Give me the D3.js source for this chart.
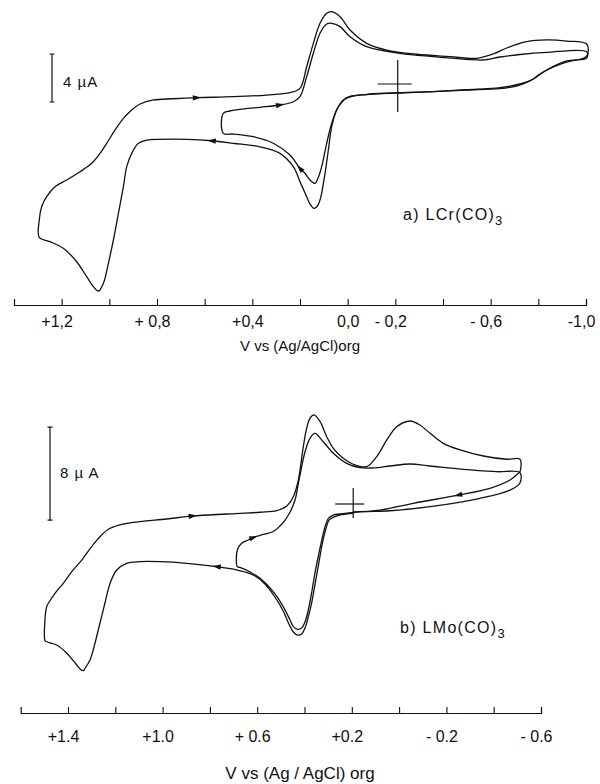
<!DOCTYPE html>
<html>
<head>
<meta charset="utf-8">
<style>
  body { margin: 0; background: #fff; }
  svg { display: block; }
</style>
</head>
<body>
<svg width="600" height="784"></svg>
<script src="https://d3js.org/d3.v7.min.js"></script>
<script>
	const svg = d3.select("svg");
	const ink = "#111";
	const font = "'Liberation Sans', Arial, sans-serif";

	// ---- a) LCr(CO)3 : potential (V) vs current (uA), two scans ----
	const crTicks = [1.2, 1.0, 0.8, 0.6, 0.4, 0.2, 0.0, -0.2, -0.4, -0.6, -0.8, -1.0];
	const crTickLabels = ["+1,2", "", "+ 0,8", "", "+0,4", "", "0,0", "- 0,2", "", "- 0,6", "", "-1,0"];

	const crInner = [
		[-0.220, -0.75], [-0.080, -0.86], [0.004, -1.19], [0.039, -1.89], [0.067, -3.28], [0.088, -4.94],
		[0.109, -6.89], [0.124, -7.83], [0.137, -8.28], [0.158, -8.00], [0.179, -7.44], [0.200, -7.03],
		[0.242, -5.92], [0.312, -4.94], [0.396, -4.39], [0.480, -4.17], [0.522, -4.11],
		[0.522, -2.44], [0.494, -2.25], [0.452, -2.11], [0.368, -1.94], [0.284, -1.75], [0.228, -1.48],
		[0.200, -1.06], [0.172, 0.61], [0.144, 2.56], [0.116, 4.23], [0.088, 5.00], [0.067, 5.06],
		[0.032, 4.78], [-0.010, 3.94], [-0.080, 3.11], [-0.220, 2.56], [-0.360, 2.28], [-0.499, 2.06],
		[-0.569, 2.00], [-0.639, 2.25], [-0.723, 2.46], [-0.835, 2.63], [-1.003, 2.69],
		[-1.003, 2.17], [-0.919, 1.92], [-0.835, 1.17], [-0.779, 0.42], [-0.723, 0.00], [-0.639, -0.31],
		[-0.499, -0.48], [-0.360, -0.63], [-0.220, -0.75]
	];
	const crOuter = [
		[-0.220, -0.72], [-0.080, -0.88], [-0.010, -1.04], [0.018, -1.33], [0.046, -2.17], [0.067, -3.56],
		[0.081, -5.50], [0.095, -7.44], [0.116, -9.67], [0.129, -10.23], [0.141, -10.36], [0.158, -10.00],
		[0.172, -9.39], [0.200, -8.14], [0.228, -6.89], [0.284, -5.78], [0.368, -5.23], [0.480, -4.94],
		[0.570, -4.73], [0.675, -4.61], [0.787, -4.61], [0.843, -4.67], [0.878, -4.94], [0.906, -5.78],
		[0.927, -6.89], [0.941, -8.56], [0.962, -10.78], [0.983, -13.00], [1.004, -14.94], [1.025, -16.61],
		[1.046, -17.25], [1.067, -16.89], [1.095, -16.06], [1.137, -14.81], [1.193, -13.69], [1.249, -13.14],
		[1.294, -12.78],
		[1.294, -11.33], [1.284, -10.23], [1.263, -9.39], [1.228, -8.56], [1.179, -8.00], [1.123, -7.31],
		[1.074, -6.61], [1.039, -5.78], [1.011, -4.94], [0.976, -3.83], [0.941, -2.86], [0.906, -2.17],
		[0.871, -1.67], [0.815, -1.33], [0.732, -1.23], [0.633, -1.14], [0.480, -1.06], [0.340, -0.92],
		[0.242, -0.72], [0.200, -0.36], [0.172, 1.44], [0.144, 3.39], [0.116, 5.06], [0.088, 5.89],
		[0.067, 6.03], [0.032, 5.61], [-0.010, 4.50], [-0.080, 3.39], [-0.164, 2.83], [-0.290, 2.48],
		[-0.430, 2.28], [-0.541, 2.14], [-0.611, 2.50], [-0.667, 3.00], [-0.751, 3.53], [-0.835, 3.67],
		[-0.919, 3.58], [-1.003, 3.33],
		[-1.003, 2.33], [-0.919, 1.83], [-0.863, 1.42], [-0.807, 0.83], [-0.765, 0.25], [-0.709, -0.17],
		[-0.639, -0.38], [-0.499, -0.50], [-0.360, -0.63], [-0.220, -0.72]
	];
	const crArrows = [["outer", 0.633, -1.14], ["outer", 0.570, -4.73], ["inner", 0.284, -1.75], ["inner", 0.200, -7.03]];
	const crCross = [-0.21, 0];
	const crBar = [-1.5, 4]; // start, span in uA

	// ---- b) LMo(CO)3 ----
	const moTicks = [1.4, 1.2, 1.0, 0.8, 0.6, 0.4, 0.2, 0.0, -0.2, -0.4, -0.6];
	const moTickLabels = ["+1.4", "", "+1.0", "", "+ 0.6", "", "+0.2", "", "- 0.2", "", "- 0.6"];

	const moInner = [
		[0.194, -0.73], [0.250, -0.86], [0.278, -0.95], [0.299, -1.23], [0.313, -1.95], [0.327, -3.10],
		[0.342, -4.53], [0.356, -5.96], [0.370, -7.66], [0.384, -9.12], [0.398, -10.15], [0.412, -10.67],
		[0.430, -10.78], [0.447, -10.55], [0.461, -9.98], [0.490, -8.83], [0.532, -7.54], [0.588, -6.39],
		[0.630, -5.85], [0.673, -5.46], [0.684, -5.39],
		[0.684, -3.96], [0.666, -3.38], [0.638, -3.10], [0.616, -2.88], [0.574, -2.62], [0.532, -2.37],
		[0.504, -1.89], [0.482, -1.38], [0.461, -0.69], [0.440, 0.34], [0.426, 1.78], [0.419, 2.49],
		[0.398, 4.47], [0.377, 5.65], [0.356, 6.08], [0.321, 5.36], [0.278, 4.36], [0.222, 3.50],
		[0.165, 3.12], [0.109, 3.10], [0.038, 3.27], [-0.046, 3.44], [-0.131, 3.27], [-0.271, 2.98],
		[-0.413, 2.78], [-0.511, 2.69],
		[-0.511, 1.81], [-0.469, 1.20], [-0.342, 0.49], [-0.131, -0.23], [0.038, -0.58], [0.151, -0.66],
		[0.194, -0.73]
	];
	const moOuter = [
		[0.194, -0.80], [0.236, -0.90], [0.271, -1.08], [0.296, -1.38], [0.311, -2.24], [0.326, -3.53],
		[0.341, -5.25], [0.356, -6.97], [0.370, -8.52], [0.384, -9.72], [0.398, -10.67], [0.412, -11.18],
		[0.430, -11.27], [0.447, -11.01], [0.466, -10.32], [0.490, -9.20], [0.525, -8.00], [0.567, -6.88],
		[0.609, -6.19], [0.652, -5.85], [0.684, -5.68], [0.771, -5.39], [0.898, -5.10], [1.011, -4.96],
		[1.096, -4.96], [1.152, -5.10], [1.194, -5.68], [1.222, -6.82], [1.244, -8.54], [1.265, -10.26],
		[1.286, -11.98], [1.307, -13.42], [1.328, -14.13], [1.335, -14.34], [1.349, -14.19], [1.363, -13.85],
		[1.405, -12.84], [1.448, -12.13], [1.490, -11.85], [1.497, -11.76],
		[1.497, -9.83], [1.490, -8.83], [1.483, -8.54], [1.455, -7.68], [1.420, -6.82], [1.384, -5.82],
		[1.342, -4.82], [1.300, -3.67], [1.265, -2.81], [1.222, -2.09], [1.166, -1.72], [1.096, -1.52],
		[0.983, -1.29], [0.873, -1.03], [0.729, -0.86], [0.588, -0.71], [0.518, -0.58], [0.475, -0.17],
		[0.447, 0.63], [0.426, 2.06], [0.419, 2.92], [0.405, 4.93], [0.391, 6.51], [0.377, 7.37],
		[0.360, 7.66], [0.334, 7.08], [0.306, 5.79], [0.278, 4.79], [0.236, 3.93], [0.194, 3.42],
		[0.137, 3.21], [0.095, 4.07], [0.052, 5.51], [0.010, 6.65], [-0.046, 7.14], [-0.088, 6.80],
		[-0.131, 6.08], [-0.187, 5.22], [-0.258, 4.65], [-0.356, 4.13], [-0.455, 3.85], [-0.511, 3.85],
		[-0.511, 2.78], [-0.504, 2.64], [-0.469, 2.06], [-0.384, 1.35], [-0.250, 0.77], [-0.060, 0.06],
		[0.081, -0.52], [0.194, -0.69]
	];
	const moArrows = [["outer", 0.873, -1.03], ["outer", 0.771, -5.39], ["inner", 0.616, -2.88], ["outer", -0.250, 0.77]];
	const moCross = [0.194, 0];
	const moBar = [-1.38, 8];

	const panels = [
		{
			x: d3.scaleLinear().domain([1.4, -1.0]).range([14, 586]),
			y: d3.scaleLinear().domain([0, 4]).range([84, 36]),
			traces: { inner: crInner, outer: crOuter }, arrows: crArrows,
			ticks: crTicks, labels: crTickLabels, axisY: 305, tickPad: 11,
			cross: crCross, crossV: [-24, 28], crossH: [-20, 14],
			bar: crBar, barX: 52, barText: "4 µA", barTextPos: [63, 87],
			name: "a) LCr(CO)", namePos: [403, 220],
			title: "V vs (Ag/AgCl)org", titleY: 351, titleSize: 15,
		},
		{
			x: d3.scaleLinear().domain([1.6, -0.6]).range([20.7, 541]),
			y: d3.scaleLinear().domain([0, 8]).range([504, 411]),
			traces: { inner: moInner, outer: moOuter }, arrows: moArrows,
			ticks: moTicks, labels: moTickLabels, axisY: 713, tickPad: 18,
			cross: moCross, crossV: [-16, 14], crossH: [-18, 11],
			bar: moBar, barX: 50, barText: "8 µ A", barTextPos: [60, 478],
			name: "b) LMo(CO)", namePos: [400, 633],
			title: "V vs (Ag / AgCl) org", titleY: 779, titleSize: 17,
		},
	];

	panels.forEach((p) => {
		const g = svg.append("g");
		const line = d3.line()
			.x((d) => p.x(d[0]))
			.y((d) => p.y(d[1]))
			.curve(d3.curveCatmullRom.alpha(0.5));

		// the two scans
		Object.values(p.traces).forEach((t) => {
			g.append("path")
				.attr("d", line(t))
				.attr("fill", "none")
				.attr("stroke", ink)
				.attr("stroke-width", 1.3)
				.attr("stroke-linejoin", "round");
		});

		// sweep direction arrows
		p.arrows.forEach(([name, v, c]) => {
			const t = p.traces[name];
			const i = t.findIndex((d) => d[0] === v && d[1] === c);
			const a = t[i - 1], b = t[i + 1];
			const ang = (Math.atan2(p.y(b[1]) - p.y(a[1]), p.x(b[0]) - p.x(a[0])) * 180) / Math.PI;
			g.append("path")
				.attr("d", "M4.5,0L-4,-2.6L-4,2.6Z")
				.attr("fill", ink)
				.attr("transform", `translate(${p.x(v)},${p.y(c)}) rotate(${ang})`);
		});

		// crosshair at the start potential
		const cx = p.x(p.cross[0]), cy = p.y(p.cross[1]);
		g.append("line").attr("x1", cx).attr("x2", cx).attr("y1", cy + p.crossV[0]).attr("y2", cy + p.crossV[1])
			.attr("stroke", ink).attr("stroke-width", 1.2);
		g.append("line").attr("x1", cx + p.crossH[0]).attr("x2", cx + p.crossH[1]).attr("y1", cy).attr("y2", cy)
			.attr("stroke", ink).attr("stroke-width", 1.2);

		// current scale bar
		const b0 = p.y(p.bar[0]), b1 = p.y(p.bar[0] + p.bar[1]);
		g.append("path")
			.attr("d", `M${p.barX},${b0}V${b1}M${p.barX - 2.5},${b0}H${p.barX + 2.5}M${p.barX - 2.5},${b1}H${p.barX + 2.5}`)
			.attr("stroke", ink).attr("stroke-width", 1.2).attr("fill", "none");
		g.append("text")
			.attr("x", p.barTextPos[0]).attr("y", p.barTextPos[1])
			.attr("font-family", font).attr("font-size", 15).attr("fill", ink)
			.attr("letter-spacing", 1)
			.text(p.barText);

		// compound name
		const nm = g.append("text")
			.attr("x", p.namePos[0]).attr("y", p.namePos[1])
			.attr("font-family", font).attr("font-size", 16).attr("fill", ink)
			.attr("letter-spacing", 1.3)
			.text(p.name);
		nm.append("tspan").attr("dy", 5).attr("font-size", 13).text("3");

		// potential axis, ticks pointing up
		const axis = d3.axisBottom(p.x)
			.tickValues(p.ticks)
			.tickSize(-6)
			.tickSizeOuter(-6)
			.tickPadding(p.tickPad)
			.tickFormat((d, i) => p.labels[i]);
		const ag = g.append("g")
			.attr("transform", `translate(0,${p.axisY})`)
			.call(axis)
			.attr("font-family", font)
			.attr("font-size", 16)
			.style("color", ink);
		ag.select(".domain").attr("stroke-width", 1.2);
		ag.selectAll(".tick line").attr("stroke-width", 1.1);
		ag.selectAll(".tick text")
			.attr("dx", (d, i) => (/^[+-]/.test(p.labels[i]) ? -5 : 0));

		g.append("text")
			.attr("x", 300).attr("y", p.titleY)
			.attr("text-anchor", "middle")
			.attr("font-family", font).attr("font-size", p.titleSize).attr("fill", ink)
			.text(p.title);
	});
</script>
</body>
</html>
